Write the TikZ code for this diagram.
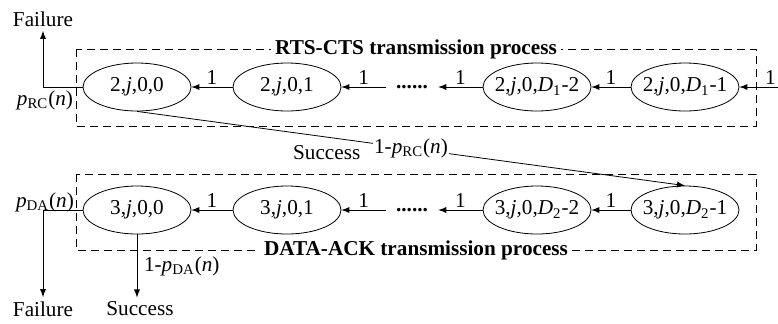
\documentclass[tikz,border=0pt]{standalone}
\usepackage{fontspec}
\setmainfont{Liberation Serif}
\usetikzlibrary{shapes.geometric,positioning}
\newcommand{\figfont}{\fontsize{10.6}{12.7}\selectfont}

\tikzset{
  state/.style={draw, ellipse, minimum width=54pt, minimum height=24pt,
    inner xsep=-3pt, inner ysep=0pt},
  dotgap/.style={inner xsep=5pt, font=\figfont\bfseries},
  procbox/.style={draw, dash pattern=on 4pt off 2.5pt},
  proctitle/.style={fill=white, inner sep=2pt, font=\figfont\bfseries},
  lbl/.style={above, inner sep=1pt},
  outcome/.style={inner sep=2pt}
}

\begin{document}
\begin{tikzpicture}[x=0.5pt, y=-0.5pt, font=\figfont, >=latex]
  \useasboundingbox (0,0) rectangle (778,323);
  % dashed process boxes and their titles
  \draw[procbox] (76,49) rectangle (756,126);
  \draw[procbox] (76,174) rectangle (756,250);
  \node[proctitle] (rtstitle) at (416,49) {RTS-CTS transmission process};
  \node[proctitle] (datatitle) at (416,250) {DATA-ACK transmission process};
  % RTS-CTS states
  \node[state] (r0) at (137,87) {2,\textit{j},0,0};
  \node[state] (r1) at (287,87) {2,\textit{j},0,1};
  \node[dotgap] (rdots) at (412,87) {......};
  \node[state] (r2) at (537,87) {2,\textit{j},0,\textit{D}\textsubscript{1}-2};
  \node[state] (r3) at (685,87) {2,\textit{j},0,\textit{D}\textsubscript{1}-1};
  \coordinate (rin) at (782,87);
  % DATA-ACK states
  \node[state] (d0) at (137,210) {3,\textit{j},0,0};
  \node[state] (d1) at (287,210) {3,\textit{j},0,1};
  \node[dotgap] (ddots) at (412,210) {......};
  \node[state] (d2) at (537,210) {3,\textit{j},0,\textit{D}\textsubscript{2}-2};
  \node[state] (d3) at (685,210) {3,\textit{j},0,\textit{D}\textsubscript{2}-1};
  % countdown arrows
  \draw[->] (rin) -- node[lbl, pos=0.27] {1} (r3);
  \draw[->] (r3) -- node[lbl] {1} (r2);
  \draw[->] (r2) -- node[lbl] {1} (rdots);
  \draw[->] (rdots) -- node[lbl] {1} (r1);
  \draw[->] (r1) -- node[lbl] {1} (r0);
  \draw[->] (d3) -- node[lbl] {1} (d2);
  \draw[->] (d2) -- node[lbl] {1} (ddots);
  \draw[->] (ddots) -- node[lbl] {1} (d1);
  \draw[->] (d1) -- node[lbl] {1} (d0);
  % RTS-CTS outcomes
  \node[outcome] (rfail) at (43,19) {Failure};
  \draw[->] (r0.west) -| (rfail);
  \node (prc) at (45,100) {\textit{p}\textsubscript{RC}(\textit{n})};
  \draw[->] (r0.south) -- node[fill=white, inner sep=0.5pt] (prcs)
    {1-\textit{p}\textsubscript{RC}(\textit{n})} (d3.north);
  \node[left=6pt of prcs, yshift=-2pt, inner sep=0pt] (rsucc) {Success};
  % DATA-ACK outcomes
  \node[outcome] (dfail) at (43,309) {Failure};
  \node[outcome] (dsucc) at (140,309) {Success};
  \draw[->] (d0.west) -| (dfail);
  \node (pda) at (45,202) {\textit{p}\textsubscript{DA}(\textit{n})};
  \draw[->] (d0.south) -- node[right] {1-\textit{p}\textsubscript{DA}(\textit{n})}
    (d0.south |- dsucc.north);
\end{tikzpicture}
\end{document}
